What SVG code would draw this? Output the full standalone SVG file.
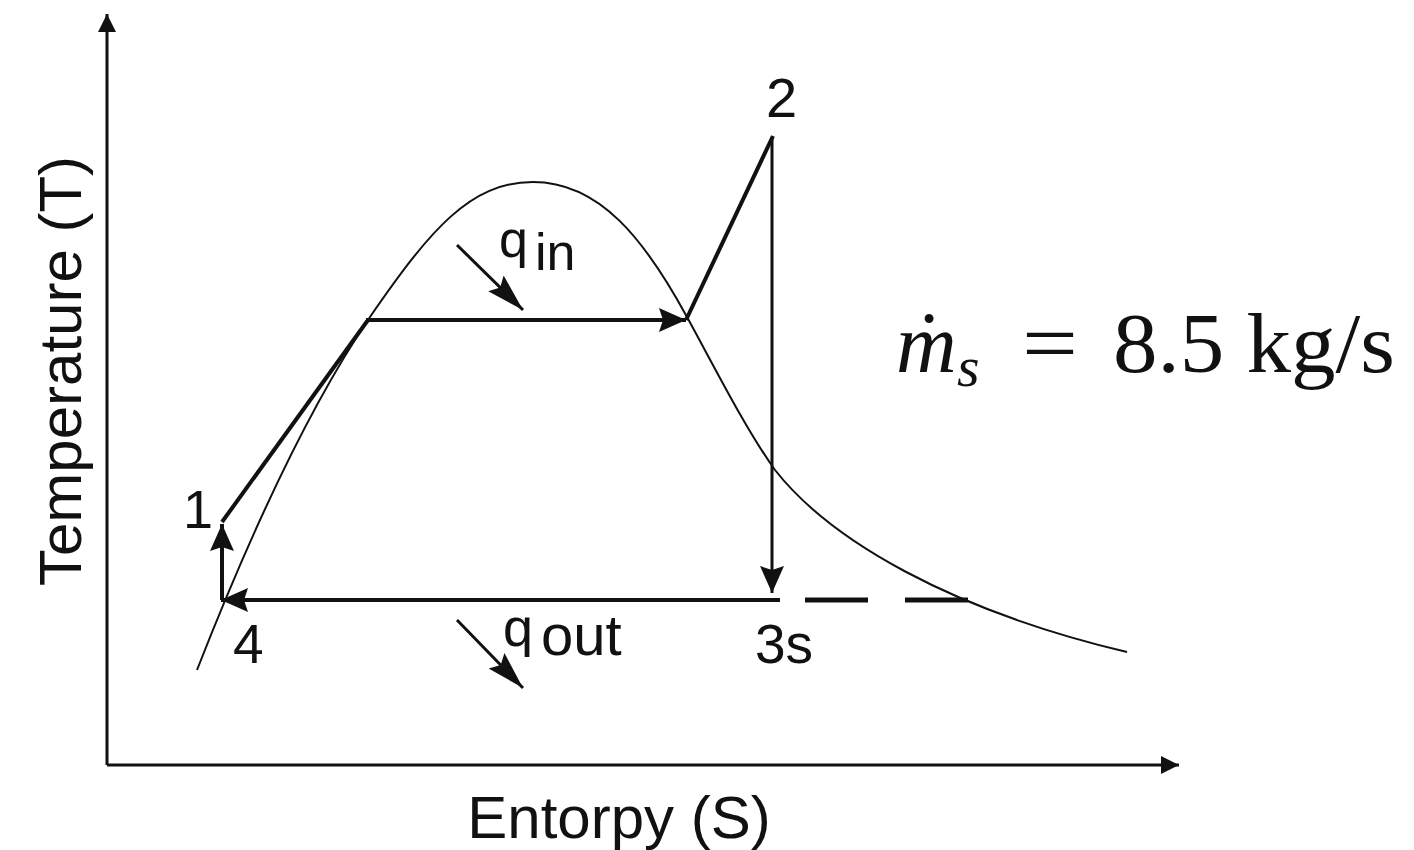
<svg xmlns="http://www.w3.org/2000/svg" width="1414" height="850" viewBox="0 0 1414 850">
<style>
.lbl{font-family:"Liberation Sans",Arial,sans-serif;fill:#111}
.math{font-family:"Liberation Serif","Times New Roman",serif;fill:#111}
.cyc{stroke:#111;stroke-width:4;fill:none}
.thin{stroke:#111;stroke-width:3;fill:none}
</style>
<defs>
<marker id="ah" markerUnits="userSpaceOnUse" markerWidth="28" markerHeight="26" refX="27" refY="12" orient="auto">
<path d="M0,0 L27,12 L0,24 L4,12 z" fill="#111"/>
</marker>
<marker id="qh" markerUnits="userSpaceOnUse" markerWidth="40" markerHeight="24" refX="38" refY="11" orient="auto">
<path d="M0,0 L38,11 L0,22 L6,11 z" fill="#111"/>
</marker>
<marker id="axh" markerUnits="userSpaceOnUse" markerWidth="20" markerHeight="20" refX="18" refY="9" orient="auto">
<path d="M0,0 L18,9 L0,18 z" fill="#111"/>
</marker>
</defs>
<rect width="1414" height="850" fill="#fff"/>

<g id="axes">
<line x1="107" y1="765" x2="107" y2="14" class="thin" marker-end="url(#axh)"/>
<line x1="107" y1="765" x2="1179" y2="765" class="thin" marker-end="url(#axh)"/>
</g>

<g id="dome">
<path d="M197,670 C240,560 300,420 370,317 C430,230 470,182 533,182 C600,182 645,240 687,317 C715,368 745,428 775,470 C830,540 950,610 1127,652" stroke="#111" stroke-width="2" fill="none"/>
</g>

<g id="connectors">
<line x1="222" y1="600" x2="222" y2="524" class="cyc" marker-end="url(#ah)"/>
<line x1="222" y1="522" x2="368" y2="320" class="cyc"/>
<line x1="366" y1="320" x2="686" y2="320" class="cyc" marker-end="url(#ah)"/>
<line x1="686" y1="320" x2="773" y2="136" class="cyc"/>
<line x1="772" y1="137" x2="772" y2="593" class="thin" marker-end="url(#ah)"/>
<line x1="780" y1="600" x2="221" y2="600" class="cyc" marker-end="url(#ah)"/>
<line x1="805" y1="600" x2="968" y2="600" stroke="#111" stroke-width="5" stroke-dasharray="63 37"/>
<line x1="457" y1="245" x2="523" y2="310" class="thin" marker-end="url(#qh)"/>
<line x1="457" y1="620" x2="523" y2="688" class="thin" marker-end="url(#qh)"/>
</g>

<g id="n1"><text class="lbl" x="183" y="528" font-size="54">1</text></g>
<g id="n2"><text class="lbl" x="766" y="117" font-size="56">2</text></g>
<g id="n4"><text class="lbl" x="233" y="663" font-size="55">4</text></g>
<g id="n3s"><text class="lbl" x="755" y="663" font-size="55">3s</text></g>
<g id="qin"><text class="lbl" font-size="52"><tspan x="499" y="257">q</tspan><tspan x="535" y="270">in</tspan></text></g>
<g id="qout"><text class="lbl" font-size="54"><tspan x="503" y="646">q</tspan><tspan x="541" y="655" font-size="58">out</tspan></text></g>

<g id="ylabel"><text class="lbl" font-size="60" text-anchor="middle" transform="translate(81,371) rotate(-90)">Temperature (T)</text></g>
<g id="xlabel"><text class="lbl" font-size="60" text-anchor="middle" x="619" y="838">Entorpy (S)</text></g>

<g id="formula">
<text class="math" font-size="84" font-style="italic" x="896" y="372">m</text>
<text class="math" font-size="84" x="929" y="370" text-anchor="middle">˙</text>
<text class="math" font-size="58" font-style="italic" x="957" y="386">s</text>
<text class="math" font-size="84" x="1022" y="372" textLength="56" lengthAdjust="spacingAndGlyphs">=</text>
<text class="math" font-size="85" x="1113" y="372" textLength="282" lengthAdjust="spacingAndGlyphs">8.5 kg/s</text>
</g>
</svg>
